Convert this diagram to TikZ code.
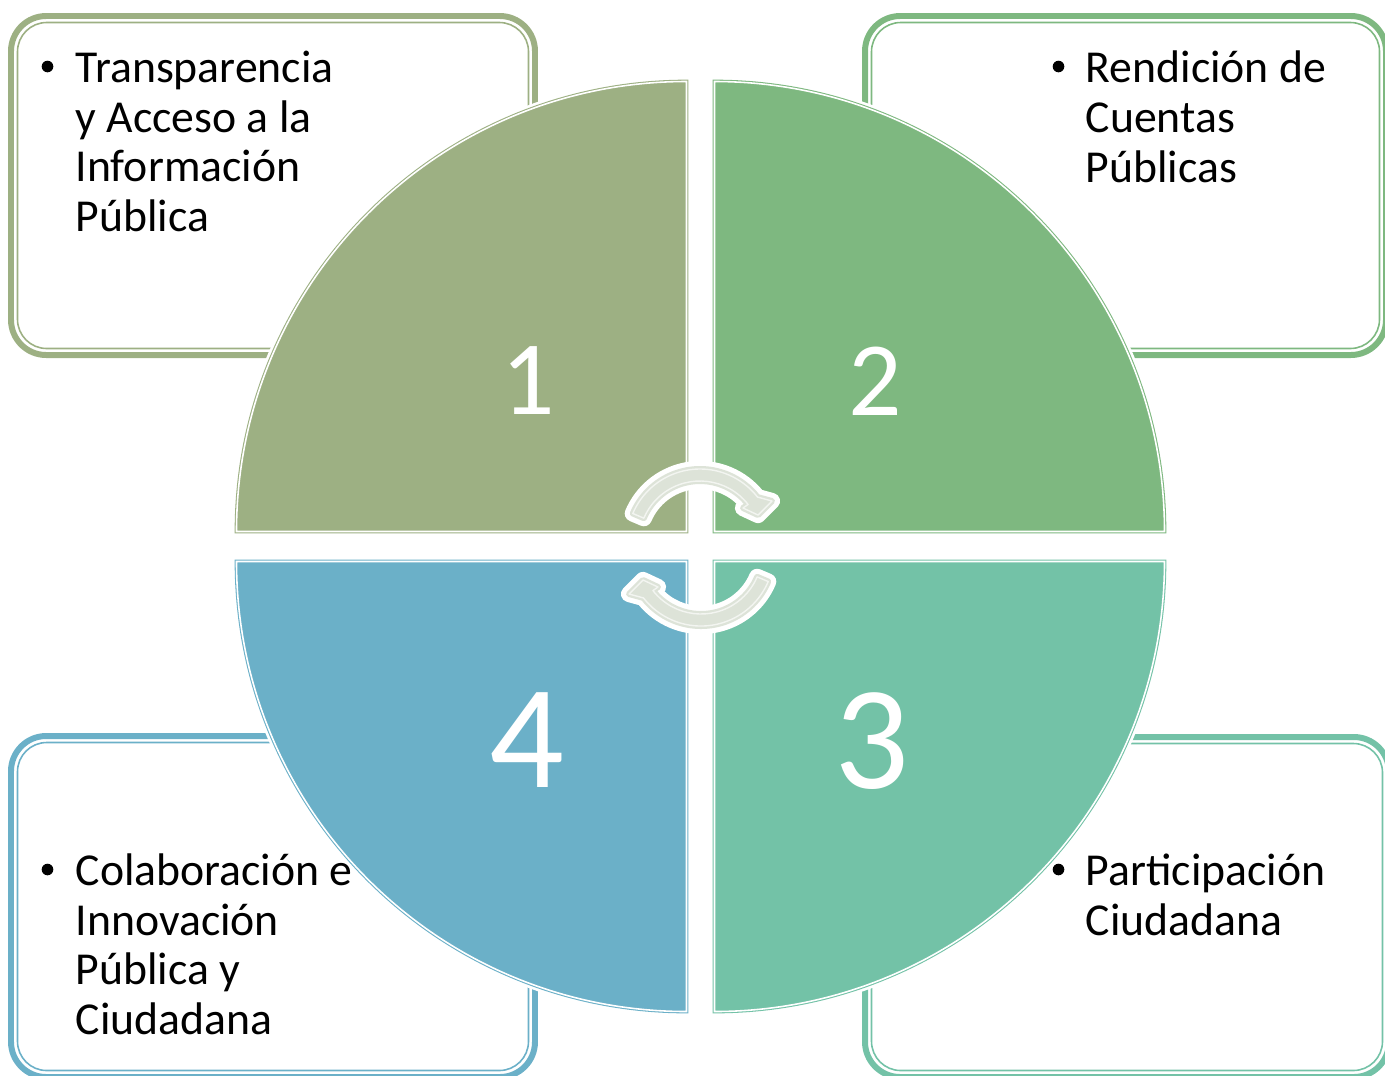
\documentclass[tikz,border=0pt]{standalone}
\usepackage{fontspec}
\setmainfont{Carlito}

\definecolor{qone}{RGB}{157,176,131}
\definecolor{qtwo}{RGB}{126,184,128}
\definecolor{qthree}{RGB}{115,194,167}
\definecolor{qfour}{RGB}{107,176,200}
\definecolor{arrowgrey}{RGB}{221,227,216}
\definecolor{arrowline}{RGB}{243,245,241}

% path of one of the two round arrows, centre at the origin
\newcommand{\turnpath}{(203:73) arc[start angle=203, end angle=322, radius=73]
  -- (72,-41) -- (58,-27) -- (43,-34) -- (322:61)
  arc[start angle=322, end angle=203, radius=61] -- cycle}

\begin{document}
\begin{tikzpicture}[x=0.01cm, y=-0.01cm,
  boxout/.style={line width=1.7pt, rounded corners=10pt},
  boxin/.style={line width=0.45pt, rounded corners=8.3pt},
  item/.style={anchor=base west, inner sep=0pt, align=left,
    font=\fontsize{13}{14.1}\selectfont},
  dot/.style={circle, fill=black, inner sep=0pt, minimum size=3.3pt},
  num/.style={text=white, inner sep=0pt, font=\fontsize{30}{30}\selectfont},
  bignum/.style={text=white, inner sep=0pt, font=\fontsize{42}{42}\selectfont}]
\useasboundingbox (0,0) rectangle (1385,1075);
\clip (0,0) rectangle (1385,1075);

% frames
\draw[qone, boxout] (11,16) rectangle (535,355);
\draw[qone, boxin] (17.5,22.5) rectangle (528.5,348.5);
\draw[qtwo, boxout] (865,16) rectangle (1386,355);
\draw[qtwo, boxin] (871.5,22.5) rectangle (1379.5,348.5);
\draw[qthree, boxout] (865,737) rectangle (1389,1077);
\draw[qthree, boxin] (871.5,743.5) rectangle (1382.5,1070.5);
\draw[qfour, boxout] (11,736) rectangle (535,1077);
\draw[qfour, boxin] (17.5,742.5) rectangle (528.5,1070.5);

% texts (base = last line)
\node[dot] (d1) at (47.5,66.5) {};
\node[item] (t1) at (75,231.5) {Transparencia\\y Acceso a la\\Información\\Pública};
\node[dot] (d2) at (1058.5,66.5) {};
\node[item] (t2) at (1085,182) {Rendición de\\Cuentas\\Públicas};
\node[dot] (d3) at (1058.5,869.5) {};
\node[item] (t3) at (1085,935.5) {Participación\\Ciudadana};
\node[dot] (d4) at (47.5,869.5) {};
\node[item] (t4) at (75,1034.5) {Colaboración e\\Innovación\\Pública y\\Ciudadana};

% quarters
\foreach \col/\cx/\cy/\a in {qone/686.5/531.5/180, qtwo/714.5/531.5/270,
    qthree/714.5/561.5/0, qfour/686.5/561.5/90}{
  \draw[white, line width=2.6pt] (\cx,\cy) -- ++(\a:450)
    arc[start angle=\a, end angle=\a+90, radius=450] -- cycle;
  \filldraw[fill=\col, draw=\col, double=white, double distance=0.45pt,
    line width=0.3pt] (\cx,\cy) -- ++(\a:450)
    arc[start angle=\a, end angle=\a+90, radius=450] -- cycle;
}

\node[num] (n1) at (528,381) {1};
\node[num] (n2) at (875,381) {2};
\node[bignum] (n3) at (872,741) {3};
\node[bignum] (n4) at (527,740) {4};

% round arrows
\foreach \r in {0,180}{
  \begin{scope}[rotate around={\r:(700.5,547.5)}]
  \begin{scope}[shift={(700,542)}]
    \draw[white, line width=4.6pt, line join=round] \turnpath;
    \draw[arrowgrey, line width=1.7pt, line join=round] \turnpath;
    \fill[arrowgrey] \turnpath;
    \draw[arrowline, line width=0.4pt, line join=round] \turnpath;
  \end{scope}
  \end{scope}
}
\end{tikzpicture}
\end{document}
